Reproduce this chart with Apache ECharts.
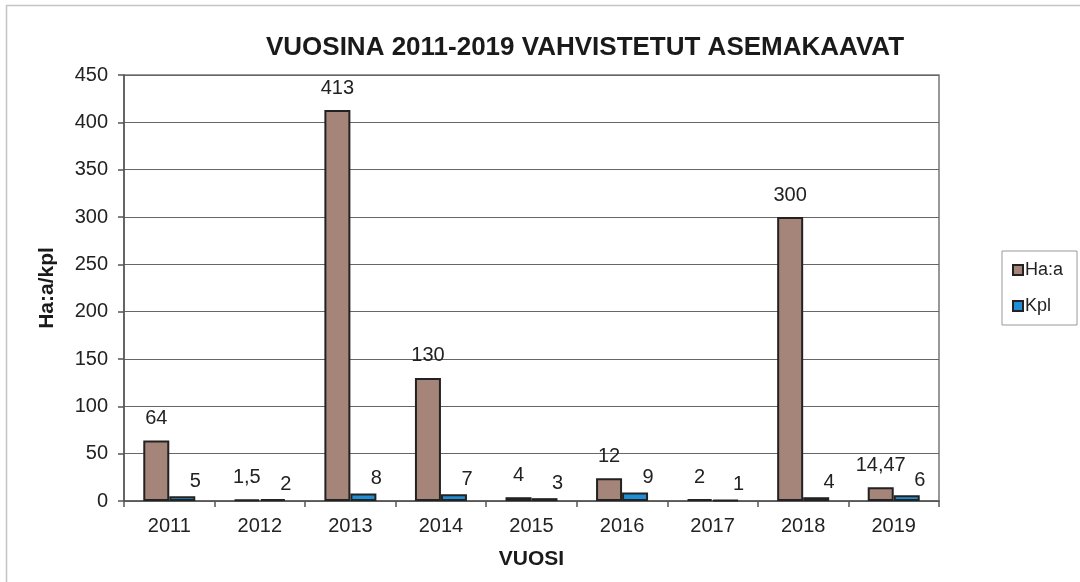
<!DOCTYPE html>
<html>
<head>
<meta charset="utf-8">
<script src="https://cdn.jsdelivr.net/npm/echarts@6/dist/echarts.min.js"></script>
<style>
html,body{margin:0;padding:0;background:#fff;}
#c{width:1080px;height:582px;}
</style>
</head>
<body>
<div id="c"></div>
<script>
const years = ['2011','2012','2013','2014','2015','2016','2017','2018','2019'];
const haValues = [64, 1.5, 413, 130, 4, 24, 2, 300, 14.47];
const haLabels = ['64','1,5','413','130','4','12','2','300','14,47'];
const kplValues = [5, 2, 8, 7, 3, 9, 1, 4, 6];
const kplLabels = ['5','2','8','7','3','9','1','4','6'];
const yTicks = [0, 50, 100, 150, 200, 250, 300, 350, 400, 450];

const chart = echarts.init(document.getElementById('c'), null, {renderer: 'canvas'});
const font = 'Liberation Sans, Arial, sans-serif';
chart.setOption({
  animation: false,
  backgroundColor: '#ffffff',
  textStyle: {fontFamily: font},
  graphic: [{
    type: 'rect', silent: true,
    shape: {x: 6.5, y: 5.5, width: 1100, height: 600},
    style: {fill: 'none', stroke: '#c4c4c4', lineWidth: 1.5}
  }],
  title: {
    text: 'VUOSINA 2011-2019 VAHVISTETUT ASEMAKAAVAT',
    left: 580, top: 30, textAlign: 'center',
    textStyle: {fontFamily: font, fontSize: 26, fontWeight: 'bold', color: '#1a1a1a'}
  },
  legend: {
    orient: 'vertical',
    left: 1002, top: 251,
    padding: [10, 14, 10, 10],
    itemGap: 18,
    itemWidth: 10, itemHeight: 10,
    borderColor: '#999', borderWidth: 1,
    icon: 'rect',
    textStyle: {fontFamily: font, fontSize: 18, color: '#222', padding: [0, 0, 0, -3]},
    data: ['Ha:a', 'Kpl']
  },
  grid: {
    left: 124, right: 141, top: 75, bottom: 81,
    show: true, borderColor: '#777', borderWidth: 1.5, backgroundColor: '#fff'
  },
  xAxis: {
    type: 'category',
    data: years,
    name: 'VUOSI',
    nameLocation: 'middle',
    nameGap: 48,
    nameTextStyle: {fontFamily: font, fontSize: 21, fontWeight: 'bold', color: '#1a1a1a'},
    axisLine: {lineStyle: {color: '#555', width: 1.5}},
    axisTick: {show: true, length: 6, lineStyle: {color: '#555', width: 1.5}},
    axisLabel: {fontFamily: font, fontSize: 20, color: '#222', margin: 15}
  },
  yAxis: {
    type: 'value',
    min: yTicks[0], max: yTicks[yTicks.length - 1], interval: yTicks[1] - yTicks[0],
    name: 'Ha:a/kpl',
    nameLocation: 'middle',
    nameGap: 66,
    nameTextStyle: {fontFamily: font, fontSize: 21, fontWeight: 'bold', color: '#1a1a1a'},
    axisLine: {show: true, lineStyle: {color: '#555', width: 1.5}},
    axisTick: {show: true, length: 6, lineStyle: {color: '#555', width: 1.5}},
    axisLabel: {fontFamily: font, fontSize: 20, color: '#222', margin: 16},
    splitLine: {show: true, lineStyle: {color: '#666', width: 1.2}}
  },
  series: [
    {
      name: 'Ha:a', type: 'bar', data: haValues,
      barWidth: 26, barGap: '0%',
      itemStyle: {color: '#a5857a', borderColor: '#222', borderWidth: 2},
      label: {
        show: true, position: 'top', offset: [0, -7],
        fontFamily: font, fontSize: 20, color: '#222',
        formatter: p => haLabels[p.dataIndex]
      }
    },
    {
      name: 'Kpl', type: 'bar', data: kplValues,
      barWidth: 26, barGap: '0%',
      itemStyle: {color: '#1f8ed6', borderColor: '#222', borderWidth: 2},
      label: {
        show: true, position: 'top', offset: [13, 0],
        fontFamily: font, fontSize: 20, color: '#222',
        formatter: p => kplLabels[p.dataIndex]
      }
    }
  ]
});
</script>
</body>
</html>
